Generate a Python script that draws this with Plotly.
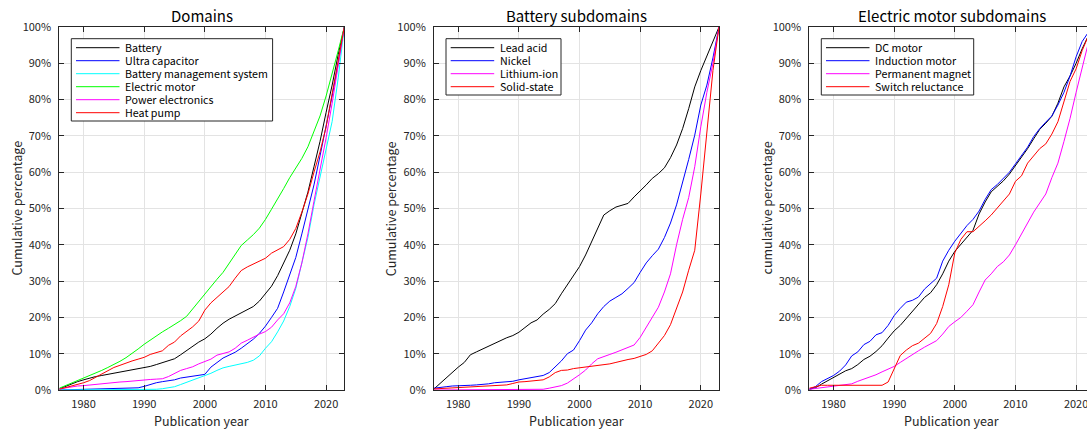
import plotly.graph_objects as go

# ---- data: cumulative share of publications (%) per year, 1976-2023 ----
YEARS = list(range(1976, 2024))

# Domains
DOM_NAMES = ["Battery", "Ultra capacitor", "Battery management system",
             "Electric motor", "Power electronics", "Heat pump"]
DOM_BATTERY = [0.3, 1.0, 1.7, 2.3, 2.8, 3.3, 3.7, 4.0, 4.3, 4.7, 5.0, 5.2, 5.5, 5.7,
               6.1, 6.5, 7.0, 7.5, 8.1, 8.6, 9.7, 10.9, 12.0, 13.2, 14.1, 15.4, 17.0,
               18.4, 19.5, 20.4, 21.2, 22.0, 23.0, 24.5, 26.6, 28.6, 31.5, 35.0, 38.5,
               43.0, 49.0, 54.5, 61.5, 68.5, 76.5, 84.0, 92.5, 100.0]
DOM_ULTRACAP = [0.0, 0.05, 0.1, 0.15, 0.2, 0.2, 0.25, 0.3, 0.3, 0.35, 0.4, 0.4, 0.5, 0.6,
                1.0, 1.6, 2.0, 2.3, 2.5, 2.8, 3.3, 3.5, 3.7, 3.9, 4.3, 6.3, 7.6, 8.8,
                9.6, 10.4, 11.5, 12.7, 14.0, 15.6, 17.6, 20.0, 22.5, 27.0, 32.0, 36.5,
                43.0, 49.5, 56.5, 64.5, 72.5, 81.0, 90.0, 100.0]
DOM_BMS = [0.0, 0.0, 0.0, 0.0, 0.0, 0.0, 0.0, 0.0, 0.0, 0.0, 0.0, 0.0, 0.0, 0.0,
           0.05, 0.1, 0.2, 0.35, 0.6, 0.9, 1.5, 2.1, 2.7, 3.2, 3.8, 4.6, 5.4, 6.1,
           6.5, 6.8, 7.2, 7.6, 8.2, 9.4, 11.5, 13.3, 16.0, 19.0, 23.0, 28.0, 35.0,
           42.0, 51.0, 58.5, 66.0, 74.0, 86.0, 100.0]
DOM_MOTOR = [0.5, 1.2, 1.9, 2.5, 3.2, 3.8, 4.6, 5.4, 6.2, 7.0, 7.9, 8.9, 10.0, 11.3,
             12.6, 13.8, 14.9, 16.0, 17.0, 18.0, 19.1, 20.3, 22.4, 24.5, 26.5, 28.5,
             30.5, 32.4, 34.9, 37.5, 39.8, 41.3, 42.8, 44.6, 47.0, 49.8, 52.5, 55.5,
             58.5, 61.0, 63.8, 67.0, 71.0, 75.5, 81.0, 87.0, 93.5, 100.0]
DOM_POWER = [0.3, 0.6, 0.9, 1.1, 1.2, 1.4, 1.5, 1.7, 1.9, 2.0, 2.2, 2.3, 2.5, 2.7,
             2.8, 2.9, 3.0, 3.1, 3.7, 4.6, 5.4, 5.9, 6.4, 7.2, 7.9, 8.5, 9.6, 10.1,
             10.5, 11.5, 12.9, 13.7, 14.6, 15.4, 16.1, 17.3, 19.3, 21.0, 24.0, 28.5,
             35.0, 43.0, 52.0, 60.5, 69.5, 79.0, 89.5, 100.0]
DOM_HEATPUMP = [0.2, 0.6, 1.0, 1.5, 2.0, 2.6, 3.5, 4.6, 5.5, 6.2, 6.8, 7.5, 8.0, 8.5,
                9.0, 9.8, 10.3, 10.8, 12.3, 13.2, 14.9, 16.2, 17.4, 19.0, 22.0, 24.0,
                25.5, 27.0, 28.5, 30.8, 32.9, 33.9, 34.7, 35.4, 36.3, 37.7, 38.5, 39.5,
                41.5, 44.5, 49.0, 54.0, 60.0, 65.6, 72.5, 81.5, 90.5, 100.0]

# Battery subdomains
BAT_NAMES = ["Lead acid", "Nickel", "Lithium-ion", "Solid-state"]
BAT_LEAD = [0.3, 1.8, 3.5, 5.0, 6.3, 7.6, 9.7, 10.5, 11.3, 12.2, 12.8, 13.6, 14.4, 15.0,
            15.9, 17.2, 18.5, 19.3, 20.9, 22.2, 23.8, 26.5, 29.0, 31.6, 34.0, 37.2,
            41.0, 44.8, 48.2, 49.4, 50.4, 50.9, 51.4, 53.2, 54.8, 56.5, 58.3, 59.6,
            61.2, 64.0, 67.5, 72.0, 77.5, 83.5, 88.0, 92.0, 96.0, 100.0]
BAT_NICKEL = [0.5, 0.6, 0.9, 1.1, 1.1, 1.2, 1.3, 1.4, 1.5, 1.7, 2.0, 2.1, 2.2, 2.4,
              2.8, 3.1, 3.2, 3.6, 4.0, 4.8, 6.5, 8.0, 10.0, 11.0, 13.6, 16.5, 18.5,
              21.0, 23.0, 24.5, 25.5, 26.5, 28.0, 29.6, 32.4, 35.0, 37.0, 38.8, 42.0,
              46.0, 51.0, 57.0, 63.5, 70.2, 78.5, 84.0, 91.5, 100.0]
BAT_LITHIUM = [0.0, 0.0, 0.0, 0.0, 0.0, 0.0, 0.0, 0.0, 0.0, 0.0, 0.0, 0.0, 0.0, 0.0,
               0.0, 0.0, 0.0, 0.1, 0.2, 0.5, 0.9, 1.2, 1.9, 3.0, 4.2, 5.5, 7.2, 8.6,
               9.3, 9.8, 10.4, 11.0, 11.6, 12.4, 14.5, 17.2, 20.0, 22.8, 27.0, 32.0,
               40.0, 47.0, 53.0, 61.5, 72.5, 82.0, 90.0, 100.0]
BAT_SOLID = [0.3, 0.4, 0.5, 0.55, 0.6, 0.6, 0.7, 0.8, 0.9, 1.0, 1.1, 1.2, 1.4, 1.8,
             2.2, 2.3, 2.5, 2.6, 2.8, 3.6, 4.8, 5.4, 5.5, 5.9, 6.1, 6.4, 6.6, 6.8,
             7.0, 7.2, 7.6, 8.1, 8.4, 8.7, 9.2, 9.8, 10.8, 12.8, 15.0, 18.0, 22.5,
             27.0, 33.0, 38.5, 54.0, 70.0, 88.0, 100.0]

# Electric motor subdomains
MOT_NAMES = ["DC motor", "Induction motor", "Permanent magnet", "Switch reluctance"]
MOT_DC = [0.2, 0.6, 1.6, 2.5, 3.4, 4.5, 5.3, 5.9, 7.0, 8.4, 9.3, 10.6, 12.2, 14.3,
          16.3, 17.8, 19.8, 21.8, 23.8, 25.5, 26.8, 29.0, 32.0, 35.5, 38.2, 40.2,
          42.3, 44.0, 48.5, 51.8, 54.6, 56.2, 57.6, 59.5, 61.8, 64.2, 66.5, 69.2,
          71.8, 73.5, 75.4, 79.0, 83.5, 86.5, 90.0, 94.0, 97.5, 100.0]
MOT_INDUCTION = [0.2, 0.9, 2.3, 3.1, 4.0, 5.2, 6.9, 9.4, 10.5, 12.5, 13.4, 15.2, 15.8,
                 17.8, 20.5, 22.5, 24.2, 24.7, 25.6, 27.8, 29.3, 30.8, 35.5, 38.5,
                 41.0, 43.2, 45.3, 47.0, 49.3, 52.5, 55.2, 56.6, 58.3, 60.0, 62.3,
                 64.6, 66.9, 69.8, 72.0, 73.8, 75.5, 78.5, 82.0, 86.5, 91.8, 96.0,
                 98.5, 100.0]
MOT_PERMANENT = [0.2, 0.4, 0.6, 0.8, 1.0, 1.1, 1.4, 1.7, 2.4, 3.0, 3.4, 4.2, 5.0, 5.7,
                 6.5, 7.6, 8.7, 9.9, 10.8, 11.8, 12.7, 13.6, 15.4, 17.5, 18.8, 20.0,
                 21.7, 23.5, 27.0, 30.3, 32.0, 34.0, 35.3, 37.2, 40.0, 43.0, 46.0,
                 49.0, 51.5, 54.0, 58.5, 62.5, 68.5, 74.8, 82.0, 89.0, 95.5, 100.0]
MOT_SWITCH = [0.5, 1.0, 1.3, 1.3, 1.3, 1.3, 1.3, 1.3, 1.3, 1.3, 1.3, 1.3, 1.3, 2.2,
              6.0, 9.5, 11.0, 12.2, 12.9, 14.2, 15.6, 18.3, 23.0, 29.0, 37.8, 41.5,
              43.6, 43.6, 45.0, 46.6, 48.2, 50.2, 52.3, 54.0, 57.5, 59.0, 62.5, 64.5,
              66.5, 67.8, 70.5, 73.9, 79.5, 85.0, 88.5, 93.5, 97.5, 100.0]

Y_TICKS = [0, 10, 20, 30, 40, 50, 60, 70, 80, 90, 100]
Y_TICK_LABELS = ["0%", "10%", "20%", "30%", "40%", "50%", "60%", "70%", "80%", "90%", "100%"]
X_TICKS = [1980, 1990, 2000, 2010, 2020]

TITLES = ["Domains", "Battery subdomains", "Electric motor subdomains"]
Y_TITLES = ["Cumulative percentage", "Cumulative percentage", "cumulative percentage"]
X_TITLE = "Publication year"

PANELS = [
    (DOM_NAMES, [DOM_BATTERY, DOM_ULTRACAP, DOM_BMS, DOM_MOTOR, DOM_POWER, DOM_HEATPUMP],
     ["#000000", "#0000ff", "#00ffff", "#00ff00", "#ff00ff", "#ff0000"]),
    (BAT_NAMES, [BAT_LEAD, BAT_NICKEL, BAT_LITHIUM, BAT_SOLID],
     ["#000000", "#0000ff", "#ff00ff", "#ff0000"]),
    (MOT_NAMES, [MOT_DC, MOT_INDUCTION, MOT_PERMANENT, MOT_SWITCH],
     ["#000000", "#0000ff", "#ff00ff", "#ff0000"]),
]

# ---- page geometry (pixels) ----
W, H = 1087, 430
FONT = "Noto Sans CJK JP"
INK = "#262626"
AX_LEFT = [59.3, 434.0, 809.3]
AX_W = 285.0
AX_TOP, AX_BOTTOM = 27.0, 390.0
X0, X1 = 1976, 2023
PX_PER_YEAR = AX_W / (X1 - X0)
LEGEND_W = [201.3, 115.0, 152.4]


def fx(px):
    return px / W


def fy(py):
    return 1 - py / H


fig = go.Figure()
shapes, annotations = [], []

for i, (names, series, colors) in enumerate(PANELS):
    n = i + 1
    xa = "x" if n == 1 else f"x{n}"
    ya = "y" if n == 1 else f"y{n}"
    left = AX_LEFT[i]
    right = min(left + AX_W, W)
    x_end = X0 + (right - left) / PX_PER_YEAR

    for name, vals, col in zip(names, series, colors):
        fig.add_trace(go.Scatter(x=YEARS, y=vals, name=name, mode="lines",
                                 line=dict(color=col, width=1), xaxis=xa, yaxis=ya,
                                 showlegend=False, hoverinfo="x+y+name"))

    axis_common = dict(showline=True, linecolor=INK, linewidth=1, ticks="inside",
                       ticklen=5, tickcolor=INK, tickwidth=1, showgrid=True,
                       gridcolor="#e3e3e3", gridwidth=1, zeroline=False,
                       automargin=False, ticklabeloverflow="allow",
                       tickfont=dict(family=FONT, size=11, color=INK))
    fig.layout[f"xaxis{'' if n == 1 else n}"] = dict(
        axis_common, domain=[fx(left), fx(right)], range=[X0, x_end],
        tickmode="array", tickvals=X_TICKS, anchor=ya, mirror="ticks",
        ticklabelstandoff=4)
    fig.layout[f"yaxis{'' if n == 1 else n}"] = dict(
        axis_common, domain=[fy(AX_BOTTOM), fy(AX_TOP)], range=[0, 100],
        tickmode="array", tickvals=Y_TICKS, ticktext=Y_TICK_LABELS, anchor=xa,
        mirror="ticks" if right < W else False, ticklabelstandoff=5)

    cx = (left + left + AX_W) / 2
    annotations.append(dict(text=TITLES[i], x=fx(cx), y=fy(15.7), xref="paper",
                            yref="paper", showarrow=False, xanchor="center",
                            yanchor="middle",
                            font=dict(family=FONT, size=15, color="#000000")))
    annotations.append(dict(text=X_TITLE, x=fx(cx), y=fy(420.5), xref="paper",
                            yref="paper", showarrow=False, xanchor="center",
                            yanchor="middle", font=dict(family=FONT, size=12.5, color=INK)))
    annotations.append(dict(text=Y_TITLES[i], x=fx(left - 43.3),
                            y=fy((AX_TOP + AX_BOTTOM) / 2),
                            xref="paper", yref="paper", showarrow=False, textangle=-90,
                            xanchor="center", yanchor="middle",
                            font=dict(family=FONT, size=12.5, color=INK)))

    # legend box drawn as shapes and text
    bx0 = left + 12
    by0 = AX_TOP + 11.7
    row_h = 13.0
    bh = row_h * len(names) + 4.3
    shapes.append(dict(type="rect", xref="paper", yref="paper",
                       x0=fx(bx0), x1=fx(bx0 + LEGEND_W[i]), y0=fy(by0), y1=fy(by0 + bh),
                       line=dict(color=INK, width=1), fillcolor="#ffffff", layer="above"))
    for k, (name, col) in enumerate(zip(names, colors)):
        ry = by0 + 9 + row_h * k
        shapes.append(dict(type="line", xref="paper", yref="paper",
                           x0=fx(bx0 + 4.7), x1=fx(bx0 + 48.2), y0=fy(ry), y1=fy(ry),
                           line=dict(color=col, width=1), layer="above"))
        annotations.append(dict(text=name, x=fx(bx0 + 52.0), y=fy(ry), xref="paper",
                                yref="paper", showarrow=False, xanchor="left",
                                yanchor="middle",
                                font=dict(family=FONT, size=10.7, color="#000000")))

fig.update_layout(template="none", width=W, height=H, autosize=False,
                  margin=dict(l=0, r=0, t=0, b=0, pad=0, autoexpand=False),
                  paper_bgcolor="#ffffff", plot_bgcolor="#ffffff",
                  shapes=shapes, annotations=annotations, showlegend=False,
                  font=dict(family=FONT, color=INK))

fig.write_html("out.html")
